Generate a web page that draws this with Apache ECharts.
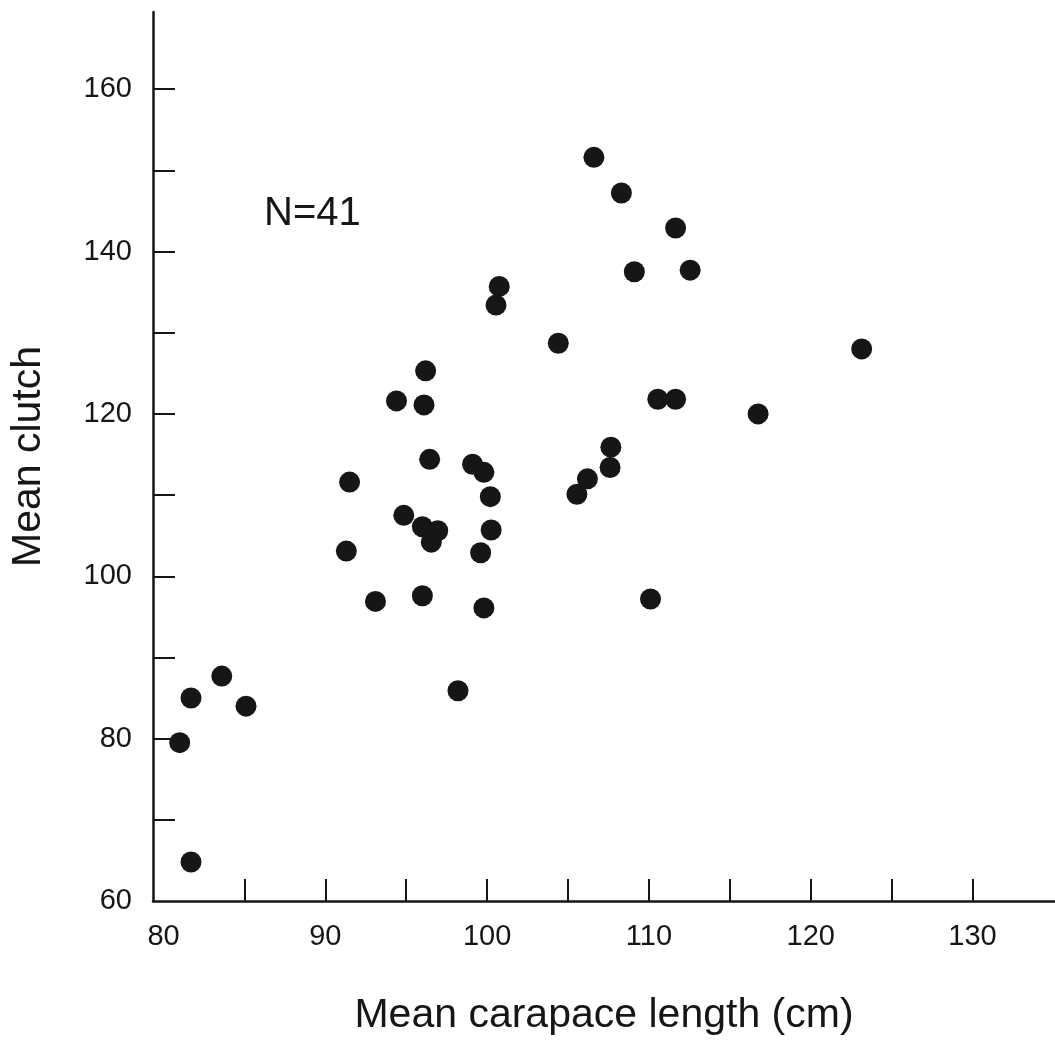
<!DOCTYPE html>
<html>
<head>
<meta charset="utf-8">
<script src="https://cdn.jsdelivr.net/npm/echarts@6/dist/echarts.min.js"></script>
<style>
html,body{margin:0;padding:0;background:#fff;}
#chart{width:1055px;height:1044px;}
</style>
</head>
<body>
<div id="chart"></div>
<script>
// Mean carapace length (cm)
const carapaceLength = [
  81.0, 81.7, 83.6, 85.1, 81.7,
  91.3, 91.5, 93.1, 94.4, 94.85, 96.2, 96.1, 96.45, 96.0, 96.95, 96.55, 96.0,
  98.2, 99.1, 99.8, 100.2, 100.25, 99.6, 99.8, 100.75, 100.55,
  104.4, 105.55, 106.2, 106.6, 107.65, 107.6, 108.3, 109.1, 110.1,
  110.55, 111.65, 111.65, 112.55, 116.75, 123.15
];
// Mean clutch
const meanClutch = [
  79.5, 85.0, 87.7, 84.0, 64.8,
  103.1, 111.6, 96.9, 121.6, 107.5, 125.3, 121.1, 114.4, 106.1, 105.6, 104.2, 97.6,
  85.9, 113.8, 112.8, 109.8, 105.7, 102.9, 96.1, 135.7, 133.4,
  128.7, 110.1, 112.0, 151.6, 115.9, 113.4, 147.2, 137.5, 97.2,
  121.8, 121.8, 142.9, 137.7, 120.0, 128.0
];
const xTickValues = [85, 90, 95, 100, 105, 110, 115, 120, 125, 130];
const xLabelValues = [80, 90, 100, 110, 120, 130];
const yTickValues = [70, 80, 90, 100, 110, 120, 130, 140, 150, 160];
const yLabelValues = [60, 80, 100, 120, 140, 160];
const annotation = 'N=41';

const points = carapaceLength.map((x, i) => [x, meanClutch[i]]);
const ink = '#161616';
const font = '"Liberation Sans", Arial, Helvetica, sans-serif';

const chart = echarts.init(document.getElementById('chart'), null, {renderer: 'canvas'});
chart.setOption({
  animation: false,
  backgroundColor: '#ffffff',
  grid: {left: 149, right: 0, top: 12, bottom: 143, containLabel: false},
  xAxis: {
    type: 'value',
    min: 79.35,
    max: 135.1,
    name: 'Mean carapace length (cm)',
    nameLocation: 'middle',
    nameGap: 94,
    nameTextStyle: {fontFamily: font, fontSize: 41, color: ink},
    axisLine: {show: true, onZero: false, lineStyle: {color: ink, width: 2.5}},
    axisTick: {show: true, inside: true, length: 22, customValues: xTickValues, lineStyle: {color: ink, width: 2}},
    axisLabel: {show: true, customValues: xLabelValues, margin: 21, fontFamily: font, fontSize: 29, color: ink},
    splitLine: {show: false}
  },
  yAxis: {
    type: 'value',
    min: 60,
    max: 169.5,
    name: 'Mean clutch',
    nameLocation: 'middle',
    nameGap: 104,
    nameRotate: 90,
    nameTextStyle: {fontFamily: font, fontSize: 41, color: ink},
    axisLine: {show: true, onZero: false, lineStyle: {color: ink, width: 2.5}},
    axisTick: {show: true, inside: true, length: 22, customValues: yTickValues, lineStyle: {color: ink, width: 2}},
    axisLabel: {show: true, customValues: yLabelValues, margin: 21, fontFamily: font, fontSize: 29, color: ink},
    splitLine: {show: false}
  },
  graphic: [{
    type: 'text',
    left: 264,
    top: 194,
    style: {text: annotation, font: '40px ' + font, fill: ink}
  }],
  series: [{
    type: 'scatter',
    data: points,
    symbol: 'circle',
    symbolSize: 21,
    itemStyle: {color: ink, opacity: 1},
    emphasis: {disabled: true}
  }]
});
</script>
</body>
</html>
